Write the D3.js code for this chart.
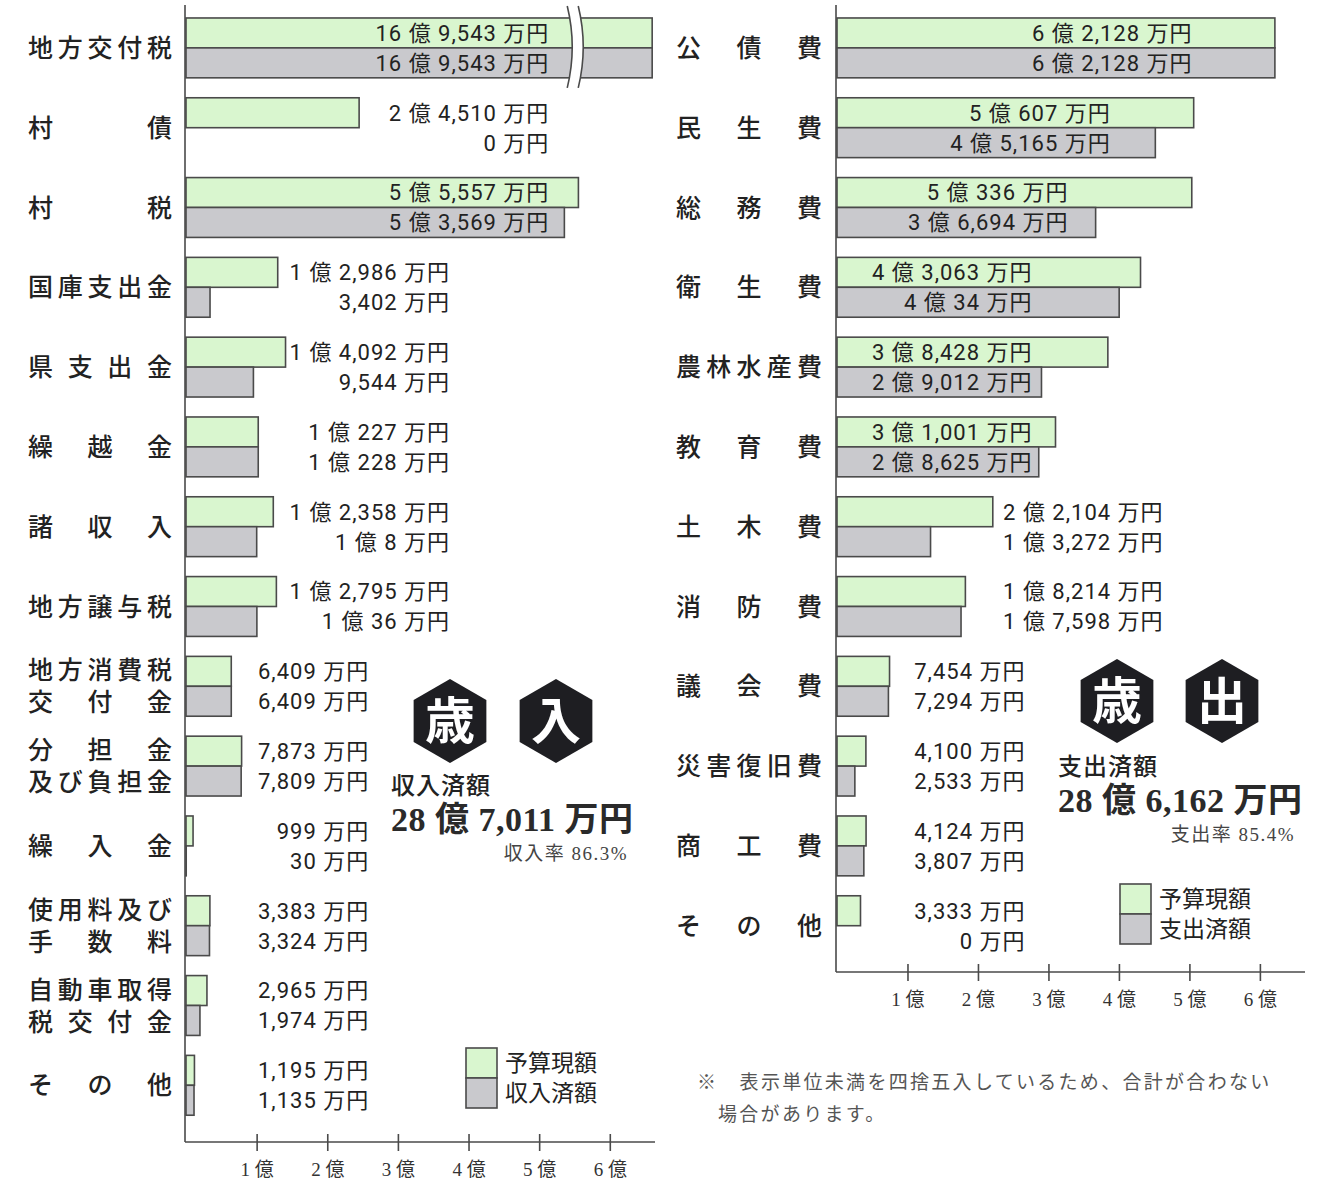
<!DOCTYPE html>
<html><head><meta charset="utf-8">
<script src="https://cdn.jsdelivr.net/npm/d3@7"></script>
<style>
body{margin:0;background:#fff;}
svg{display:block;}
text{font-family:"Noto Sans CJK JP","Noto Sans",sans-serif;fill:#222;}
.tight{font-family:Roboto,"Noto Sans CJK JP",sans-serif;}
.serif{font-family:"Liberation Serif","DejaVu Serif","Noto Sans CJK JP",serif;}
</style></head>
<body>
<svg id="c" width="1326" height="1185"></svg>
<script>
// ---- data (万円) ----
const revCats = ["地方交付税","村債","村税","国庫支出金","県支出金","繰越金","諸収入","地方譲与税","地方消費税\n交付金","分担金\n及び負担金","繰入金","使用料及び\n手数料","自動車取得\n税交付金","その他"];
const revBudget = [169543,24510,55557,12986,14092,10227,12358,12795,6409,7873,999,3383,2965,1195];
const revActual = [169543,0,53569,3402,9544,10228,10008,10036,6409,7809,30,3324,1974,1135];

const expCats = ["公債費","民生費","総務費","衛生費","農林水産費","教育費","土木費","消防費","議会費","災害復旧費","商工費","その他"];
const expBudget = [62128,50607,50336,43063,38428,31001,22104,18214,7454,4100,4124,3333];
const expActual = [62128,45165,36694,40034,29012,28625,13272,17598,7294,2533,3807,0];

const tickValues = [1,2,3,4,5,6];
const tickLabels = ["1 億","2 億","3 億","4 億","5 億","6 億"];
const legendRev = ["予算現額","収入済額"];
const legendExp = ["予算現額","支出済額"];
const totalRev = {label:"収入済額", amount:"28 億 7,011 万円", rate:"収入率 86.3%"};
const totalExp = {label:"支出済額", amount:"28 億 6,162 万円", rate:"支出率 85.4%"};
const noteLines = ["※　表示単位未満を四捨五入しているため、合計が合わない","場合があります。"];

const GREEN = "#d9f6cf", GRAY = "#c9c9cd", STROKE = "#4a4a4a";
const svg = d3.select("#c");

function fmt(v){
  const oku = Math.floor(v/10000), man = v % 10000;
  const m = d3.format(",")(man);
  return oku > 0 ? `${oku} 億 ${m} 万円` : `${m} 万円`;
}

// category label; each character spread evenly (justified) across the label column
function justifiedLabel(g, lines, x0, x1, yc, fs){
  const t = g.append("text").attr("class","tight").attr("font-size",fs).attr("font-weight",500).attr("text-anchor","middle");
  const offs = lines.length===1 ? [0] : [-16, 16];
  lines.forEach((str,li)=>{
    const chars = Array.from(str);
    const n = chars.length;
    const c0 = x0 + fs/2, c1 = x1 - fs/2;
    chars.forEach((ch,i)=>{
      const cx = n===1 ? c0 : c0 + (c1-c0)*i/(n-1);
      t.append("tspan").attr("x",cx).attr("y",yc+offs[li]+fs*0.36).text(ch);
    });
  });
}

function hexagon(g, cx, cy, r, ch){
  const pts = d3.range(6).map(i=>{
    const a = Math.PI/3*i - Math.PI/2;
    return [cx + r*Math.cos(a), cy + r*Math.sin(a)];
  });
  g.append("polygon").attr("points", pts.map(p=>p.join(",")).join(" ")).attr("fill","#1e1e22");
  g.append("text").attr("x",cx).attr("y",cy).attr("dy","0.36em").attr("text-anchor","middle")
    .attr("font-size",50).attr("font-weight",700).style("fill","#fff").text(ch);
}

function panel(opt){
  const {cats,budget,actual,x0,x1,axisY,labelX0,labelX1,labelRule,breakAt} = opt;
  const g = svg.append("g");
  const x = d3.scaleLinear().domain([0, 6.64]).range([x0, x1]);
  const step = 79.8;
  const y = d3.scaleBand().domain(cats).range([8, 8 + cats.length*step]).paddingInner(0.25).paddingOuter(0.125);
  const bh = y.bandwidth()/2;
  const cap = 6.6;

  cats.forEach(c=>{
    justifiedLabel(g, c.split("\n"), labelX0, labelX1, y(c) + y.bandwidth()/2, 25);
  });

  cats.forEach((c,i)=>{
    const vals = [budget[i], actual[i]];
    vals.forEach((v,j)=>{
      if(v<=0) return;
      const ve = Math.min(v/10000, cap);
      g.append("rect").attr("x",x(0)).attr("y",y(c)+j*bh).attr("width",x(ve)-x(0)).attr("height",bh)
        .attr("fill", j===0?GREEN:GRAY).attr("stroke",STROKE).attr("stroke-width",1.6);
    });
    const rightV = labelRule(Math.max(...vals)/10000, Math.min(...vals)/10000);
    vals.forEach((v,j)=>{
      g.append("text").attr("class","tight").attr("text-anchor","end").attr("font-size",22).attr("letter-spacing","1px")
        .attr("x",x(rightV)+1).attr("y",y(c)+j*bh+bh/2+22*0.36).text(fmt(v));
    });
    if(breakAt && i===0){
      const top = y(c)-12, bot = y(c)+y.bandwidth()+10, mid=(top+bot)/2;
      const bx = x(breakAt);
      const curve = (ox)=>`M${ox-3},${top} Q${ox+7},${mid} ${ox-3},${bot}`;
      g.append("path").attr("d",`M${bx-3},${top} Q${bx+7},${mid} ${bx-3},${bot} L${bx+8},${bot} Q${bx+18},${mid} ${bx+8},${top} Z`).attr("fill","#fff");
      g.append("path").attr("d",curve(bx)).attr("fill","none").attr("stroke",STROKE).attr("stroke-width",1.6);
      g.append("path").attr("d",curve(bx+11)).attr("fill","none").attr("stroke",STROKE).attr("stroke-width",1.6);
    }
  });

  g.append("line").attr("x1",x(0)-1).attr("x2",x(0)-1).attr("y1",5).attr("y2",axisY).attr("stroke",STROKE).attr("stroke-width",1.6);
  const ax = d3.axisBottom(x).tickValues(tickValues).tickSize(0).tickFormat((d,i)=>tickLabels[i]);
  const ag = g.append("g").attr("transform",`translate(0,${axisY})`).call(ax);
  ag.select(".domain").attr("stroke",STROKE).attr("stroke-width",1.6).attr("d",`M${x(0)-1},0H${x.range()[1]}`);
  ag.selectAll(".tick line").attr("y1",-8).attr("y2",9).attr("stroke",STROKE).attr("stroke-width",1.6);
  ag.selectAll(".tick text").attr("y",21).attr("dy","0.71em").attr("font-size",19).attr("class","serif").style("fill","#333");
  return {x,y};
}

panel({cats:revCats,budget:revBudget,actual:revActual,x0:186,x1:655,axisY:1142,labelX0:28,labelX1:172,breakAt:5.44,
  labelRule:(mx,mn)=> mx>=2?5.13 : mx>=1?3.725 : 2.58});
panel({cats:expCats,budget:expBudget,actual:expActual,x0:837,x1:1305,axisY:972,labelX0:676,labelX1:822,
  labelRule:(mx,mn)=> mx>=6?5.03 : (mx>=5&&mn>=4)?3.87 : mx>=5?3.27 : mx>=3?2.76 : mx>=1?4.62 : 2.66});

const tg = svg.append("g");
hexagon(tg,450,721,42,"歳"); hexagon(tg,556,721,42,"入");
hexagon(tg,1117,701,42,"歳"); hexagon(tg,1222,701,42,"出");

function totals(t, x, y, xr){
  tg.append("text").attr("class","tight").attr("x",x).attr("y",y-2).attr("font-size",24).attr("font-weight",500).attr("letter-spacing","1px").text(t.label);
  tg.append("text").attr("x",x).attr("y",y+35).attr("font-size",34).attr("class","serif").attr("font-weight",700).attr("letter-spacing","0.5px").style("fill","#2a2a2a").text(t.amount);
  tg.append("text").attr("x",xr).attr("y",y+64).attr("text-anchor","end").attr("font-size",19).attr("class","serif").attr("letter-spacing","1.5px").style("fill","#444").text(t.rate);
}
totals(totalRev,391,796,628);
totals(totalExp,1058,777,1295);

function legend(labels,x,y){
  const lg = svg.append("g");
  [GREEN,GRAY].forEach((c,i)=>{
    lg.append("rect").attr("x",x).attr("y",y+i*30).attr("width",31).attr("height",30).attr("fill",c).attr("stroke",STROKE).attr("stroke-width",1.6);
  });
  labels.forEach((s,i)=>{
    lg.append("text").attr("class","tight").attr("font-size",23).attr("x",x+39).attr("y",y+i*30+15+23*0.36).text(s);
  });
}
legend(legendRev,466,1048);
legend(legendExp,1120,884);

noteLines.forEach((s,i)=>{
  svg.append("text").attr("font-size",19).attr("letter-spacing","2.3px").style("fill","#555")
    .attr("x", i===0?697:718).attr("y",1089+i*32).text(s);
});
</script>
</body></html>
